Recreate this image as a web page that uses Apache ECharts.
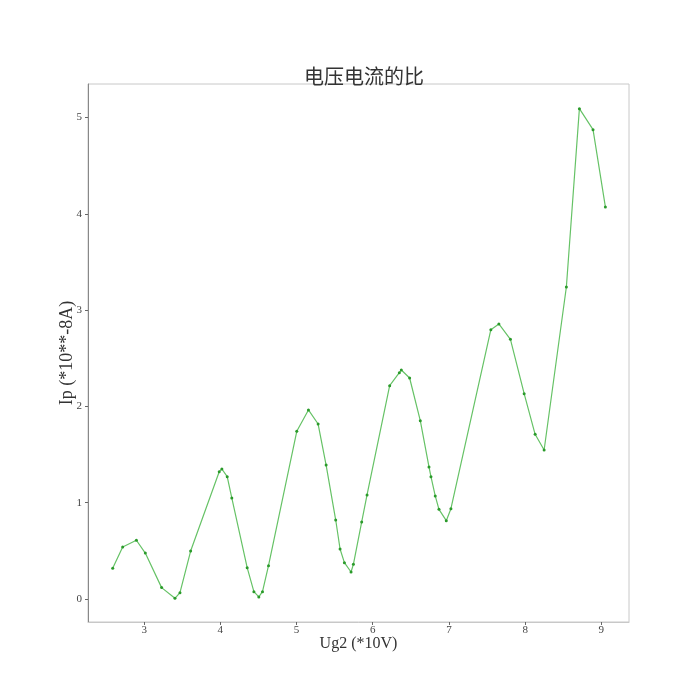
<!DOCTYPE html>
<html>
<head>
<meta charset="utf-8">
<script src="https://cdn.jsdelivr.net/npm/echarts@6/dist/echarts.min.js"></script>
<style>
html,body{margin:0;padding:0;background:#fff;}
#c{width:700px;height:700px;}
</style>
</head>
<body>
<div id="c"></div>
<script>
const ug2 = [2.587,2.718,2.898,3.015,3.229,3.404,3.47,3.61,3.985,4.02,4.09,4.15,4.352,4.44,4.505,4.553,4.632,5.003,5.156,5.283,5.388,5.514,5.571,5.628,5.715,5.746,5.855,5.925,6.222,6.349,6.375,6.484,6.624,6.738,6.764,6.82,6.869,6.965,7.026,7.55,7.655,7.807,7.987,8.131,8.249,8.541,8.712,8.891,9.053];
const ip = [0.319,0.54,0.61,0.477,0.118,0.007,0.066,0.498,1.322,1.35,1.27,1.049,0.325,0.076,0.021,0.076,0.346,1.741,1.963,1.817,1.391,0.82,0.519,0.377,0.28,0.36,0.8,1.08,2.215,2.35,2.378,2.295,1.852,1.371,1.27,1.07,0.931,0.813,0.938,2.797,2.856,2.697,2.132,1.71,1.547,3.24,5.092,4.874,4.071];
const xTicks = [3,4,5,6,7,8,9];
const yTicks = [0,1,2,3,4,5];

const serif = "'Liberation Serif','DejaVu Serif',serif";
const chart = echarts.init(document.getElementById('c'), null, {renderer:'canvas'});
chart.setOption({
  animation:false,
  backgroundColor:'#fff',
  title:{
    text:'电压电流的比',
    left:359, top:61, textAlign:'center',
    textStyle:{fontFamily:"'Noto Sans CJK SC',sans-serif", fontSize:20, fontWeight:'normal', color:'#333'}
  },
  grid:{left:88,right:71,top:84,bottom:78,show:true,borderColor:'#c8c8c8',borderWidth:1,backgroundColor:'transparent'},
  xAxis:{
    type:'value', min:2.263, max:9.363,
    name:'Ug2 (*10V)', nameLocation:'middle', nameGap:14, nameMoveOverlap:false,
    nameTextStyle:{fontFamily:serif, fontSize:16, color:'#333'},
    axisLine:{show:true,onZero:false,lineStyle:{color:'#c8c8c8'}},
    axisTick:{show:true,length:3,customValues:xTicks,lineStyle:{color:'#666'}},
    axisLabel:{customValues:xTicks,fontFamily:serif,fontSize:11,color:'#444',margin:3},
    splitLine:{show:false}
  },
  yAxis:{
    type:'value', min:-0.239, max:5.348,
    name:'Ip (*10**-8A)', nameLocation:'middle', nameGap:12, nameRotate:90, nameMoveOverlap:false,
    nameTextStyle:{fontFamily:serif, fontSize:18, color:'#333'},
    axisLine:{show:true,onZero:false,lineStyle:{color:'#888'}},
    axisTick:{show:true,length:3,customValues:yTicks,lineStyle:{color:'#666'}},
    axisLabel:{customValues:yTicks,fontFamily:serif,fontSize:11,color:'#444',margin:6},
    splitLine:{show:false}
  },
  series:[{
    type:'line',
    data: ug2.map((x,i)=>[x, ip[i]]),
    symbol:'circle', symbolSize:3,
    showAllSymbol:true,
    lineStyle:{color:'#66c266',width:1.2},
    itemStyle:{color:'#2a9a2a'}
  }]
});
</script>
</body>
</html>
